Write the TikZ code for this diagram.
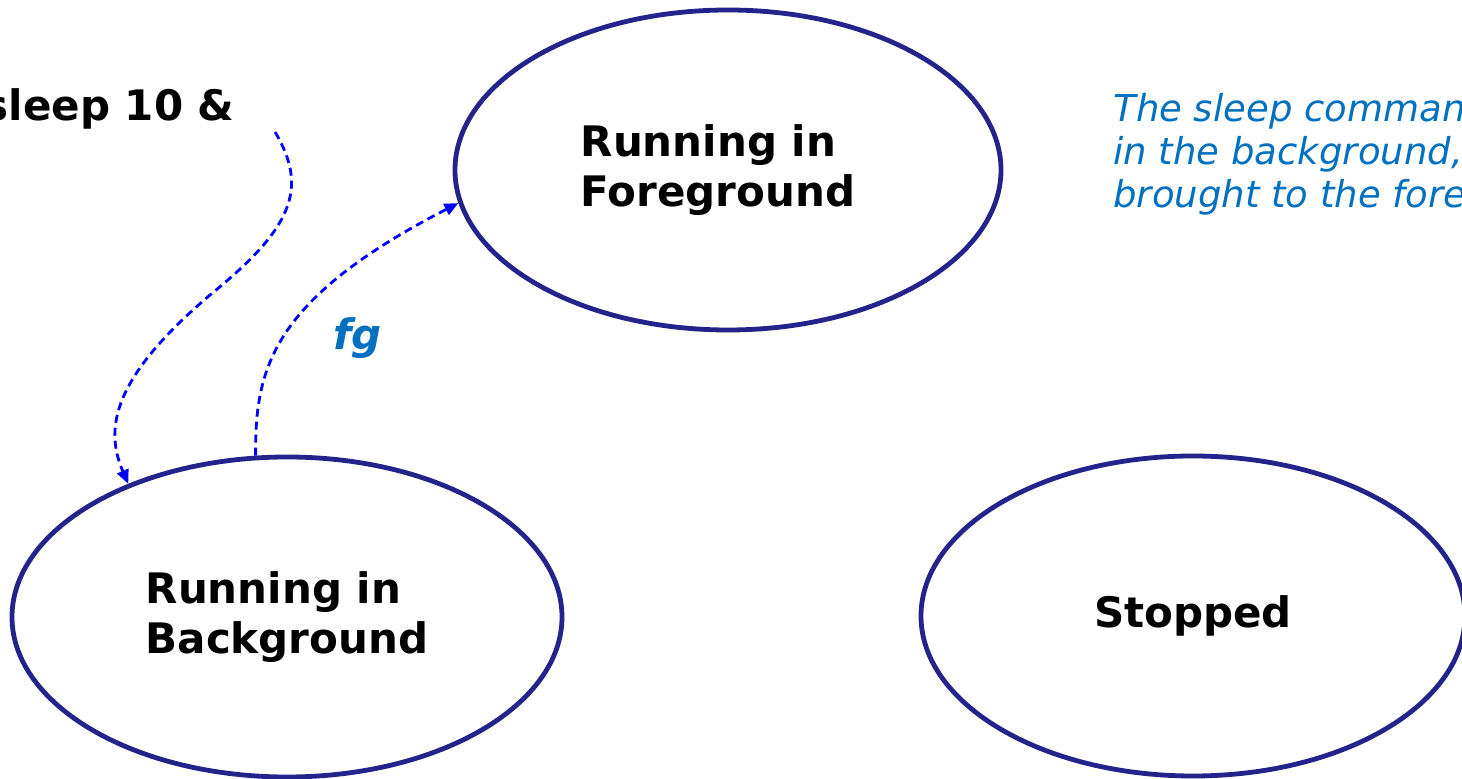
\documentclass[tikz,border=0pt]{standalone}
\usepackage{fontspec}
\setmainfont{DejaVu Sans}
\usetikzlibrary{shapes.geometric,arrows.meta}
\definecolor{navy}{RGB}{35,35,139}
\definecolor{noteblue}{RGB}{0,112,192}
\definecolor{arrowblue}{RGB}{0,0,255}
\tikzset{
  state/.style={ellipse, draw=navy, line width=2.4pt, minimum width=273pt, minimum height=160pt, inner sep=0pt, align=left, font=\fontsize{21}{25}\selectfont\bfseries},
  trans/.style={draw=arrowblue, line width=1.4pt, dash pattern=on 4pt off 2.5pt, -{Triangle[length=7pt,width=6pt]}},
  lbl/.style={font=\fontsize{21}{25}\selectfont\bfseries},
  note/.style={text=noteblue, align=left, font=\fontsize{18.5}{21.5}\selectfont\itshape}
}
\begin{document}
\begin{tikzpicture}[x=0.5pt,y=-0.5pt]
\useasboundingbox (0,0) rectangle (1462,779);
\node[state] (fg) at (728,170) {Running in\\Foreground\hspace*{10pt}};
\node[state, minimum width=275pt] (bg) at (287,617) {Running in\\Background};
\node[state, minimum width=272pt] (st) at (1193,616) {Stopped};
\node[lbl, anchor=base east, inner sep=0pt] (cmd) at (235,121) {sleep 10 \&};
\node[lbl, text=noteblue, font=\fontsize{21}{25}\selectfont\bfseries\itshape, anchor=base west, inner sep=0pt] (fglbl) at (333,350) {fg};
\node[note, anchor=base west, inner sep=0pt] (txt) at (1113,208) {The sleep command\\in the background,\\brought to the foreground};
\coordinate (s1) at (275,132);
\draw[trans] (s1) .. controls (310,190) and (290,230) .. (210,295) .. controls (110,380) and (105,430) .. (bg.140);
\draw[trans] (bg.101) .. controls (255,370) and (270,300) .. (fg.187);
\end{tikzpicture}
\end{document}
